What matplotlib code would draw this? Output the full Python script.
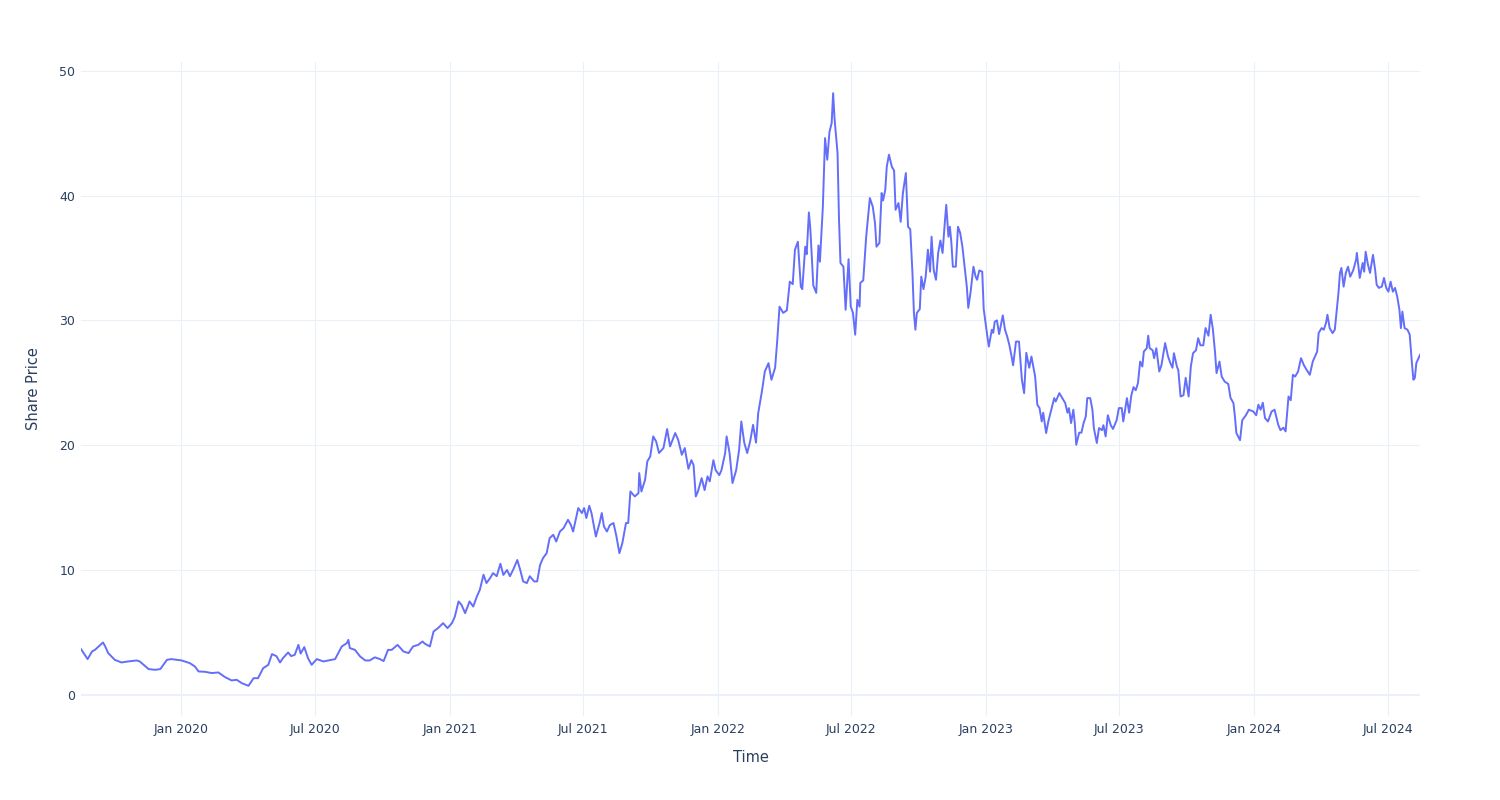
import matplotlib
matplotlib.use('Agg')
import matplotlib.pyplot as plt
import pandas as pd

start_date = '2019-08-18'

day_offsets = [
    0, 9, 15, 19, 24, 30, 33, 37, 46, 55, 64, 76, 80, 92, 101, 108, 117, 123, 137, 148, 155,
    160, 169, 178, 187, 196, 205, 212, 219, 228, 235, 241, 248, 255, 260, 266, 271, 275, 282,
    286, 291, 296, 299, 304, 309, 314, 321, 330,
    337, 346, 355, 362, 364, 366, 373, 380, 387, 393, 400, 407, 412, 418, 423, 431, 439, 446,
    452, 459, 465, 468, 475,
    480, 486, 493, 499, 505, 509, 514, 518, 523, 529, 534, 539, 543, 548, 552, 557, 561, 566,
    571, 575, 580, 584, 589, 594, 598, 602, 607, 611, 617, 621, 625, 629, 634, 638,
    643, 647, 652, 657, 663, 667, 670, 677, 682, 685, 688, 692, 695, 701, 706, 709, 712, 716,
    720, 725, 729, 733, 737, 742, 745, 748, 754, 759, 760, 763, 768, 771, 775, 779, 783, 787,
    793, 798, 802, 809, 813, 818, 822, 827,
    831, 834, 837, 840, 845, 849, 853, 856, 861, 864, 869, 872, 877, 879, 883, 887, 892, 896,
    899, 903, 907, 911, 915, 919, 922, 927, 931, 936, 940, 945, 948, 951,
    956, 961, 965, 969, 972, 976, 980, 982, 986, 988, 991, 993, 997, 1001, 1004, 1006, 1010,
    1013, 1016, 1019, 1022, 1024, 1026, 1030, 1032, 1034, 1038, 1041, 1045, 1048, 1051, 1054,
    1057, 1060, 1061, 1065, 1069, 1072, 1074, 1078, 1081, 1083, 1087, 1090, 1092, 1095, 1097,
    1100, 1104, 1107, 1109, 1113, 1116, 1119, 1123, 1126, 1129, 1132, 1134, 1136, 1138, 1142,
    1144, 1147, 1150, 1153, 1156, 1158, 1161, 1164, 1167, 1170, 1173, 1176, 1178, 1181, 1183,
    1185, 1187, 1191, 1194, 1197, 1200, 1203, 1206, 1208, 1211, 1215, 1218, 1220, 1223, 1227,
    1229,
    1234, 1236, 1240, 1242, 1244, 1247, 1250, 1255, 1258, 1261, 1264, 1267, 1269, 1273, 1277,
    1281, 1284, 1287, 1291, 1294, 1299, 1302, 1305, 1308, 1310, 1314, 1317, 1321, 1325, 1327,
    1332, 1336, 1340, 1343, 1345, 1348, 1351, 1353, 1355, 1359, 1362, 1365, 1368, 1370, 1374,
    1377, 1379, 1383, 1386,
    1390, 1392, 1395, 1398, 1402, 1405, 1410, 1413, 1417, 1419, 1424, 1427, 1430, 1433, 1436,
    1439, 1442, 1445, 1447, 1451, 1453, 1455, 1459, 1461, 1464, 1468, 1471, 1476, 1480, 1483,
    1486, 1488, 1492, 1494, 1497, 1501, 1504, 1508, 1511, 1514, 1518, 1521, 1524, 1528, 1531,
    1535, 1538, 1541, 1544, 1546, 1550, 1553, 1557, 1562, 1565, 1569, 1571, 1573, 1578,
    1581, 1586, 1590, 1596, 1600, 1603, 1606, 1609, 1612, 1616, 1621, 1625, 1630, 1633, 1637,
    1640, 1644, 1647, 1650, 1653, 1657, 1661, 1665, 1669, 1673, 1677, 1680, 1683, 1685, 1689,
    1692, 1695, 1697, 1700, 1704, 1707, 1709, 1712, 1714, 1716, 1719, 1722, 1725, 1728, 1732,
    1736, 1737, 1741, 1745, 1747, 1749, 1752, 1755, 1759, 1762, 1764, 1767, 1771, 1774, 1777,
    1780, 1783, 1786, 1789, 1792, 1795, 1797, 1799, 1802, 1806, 1809, 1812, 1814, 1816, 1818,
    1823,
]

share_price = [
    3.66, 2.86, 3.47, 3.6, 3.87, 4.19, 3.87, 3.34, 2.8, 2.59, 2.67, 2.75, 2.67, 2.06, 2.0, 2.06,
    2.8, 2.86, 2.75, 2.54, 2.27,
    1.87, 1.84, 1.74, 1.79, 1.42, 1.15, 1.2, 0.93, 0.72, 1.33, 1.33, 2.13, 2.4, 3.26, 3.1, 2.59,
    2.94, 3.39, 3.1, 3.2, 4.0, 3.3, 3.82, 2.94, 2.4, 2.86, 2.67,
    2.75, 2.86, 3.87, 4.14, 4.4, 3.74, 3.6, 3.07, 2.75, 2.75, 3.0, 2.86, 2.7, 3.6, 3.6, 4.0,
    3.47, 3.34, 3.87, 4.0, 4.27, 4.1, 3.87,
    5.07, 5.34, 5.74, 5.34, 5.74, 6.27, 7.48, 7.21, 6.54, 7.48, 7.07, 7.88, 8.41, 9.62, 8.95,
    9.35, 9.75, 9.5, 10.5, 9.6, 10.0, 9.5, 10.1, 10.8, 10.0, 9.08, 8.95, 9.5, 9.08, 9.08, 10.4,
    10.95, 11.35, 12.55,
    12.82, 12.28, 13.08, 13.35, 14.02, 13.6, 13.08, 14.96, 14.56, 14.96, 14.16, 15.14, 14.56,
    12.68, 13.76, 14.56, 13.49, 13.08, 13.6, 13.76, 12.68, 11.35, 12.15, 13.76, 13.76, 16.29,
    15.89, 16.16, 17.76, 16.29, 17.23, 18.7, 19.1, 20.7, 20.3, 19.37, 19.77, 21.29, 19.9, 20.97,
    20.43, 19.23, 19.77, 18.1,
    18.8, 18.4, 15.89, 16.3, 17.36, 16.4, 17.5, 17.1, 18.8, 18.0, 17.6, 18.0, 19.37, 20.7, 19.37,
    16.96, 18.0, 19.63, 21.9, 20.2, 19.37, 20.3, 21.63, 20.2, 22.57, 24.3, 25.9, 26.57, 25.24,
    26.2, 28.45, 31.1,
    30.6, 30.8, 33.1, 32.9, 35.66, 36.3, 32.7, 32.5, 35.9, 35.3, 38.65, 37.3, 32.8, 32.2, 36.0,
    34.7, 39.1, 44.6, 42.87, 45.1, 45.8, 48.2, 46.1, 43.4, 38.06, 34.6, 34.3, 30.85, 34.9, 31.1,
    30.6, 28.85, 31.65, 31.1, 33.0, 33.2, 36.7, 38.6, 39.8, 39.1, 37.8, 35.9, 36.2, 40.2, 39.6,
    40.46, 42.3, 43.27, 42.3, 42.0, 38.86, 39.4, 37.9, 40.2, 41.8, 37.5, 37.3, 33.8, 30.6, 29.25,
    30.6, 30.9, 33.5, 32.5, 33.5, 35.66, 33.9, 36.7, 34.0, 33.25, 35.4, 36.4, 35.4, 37.8, 39.26,
    36.7, 37.5, 36.2, 34.3, 34.3, 37.5, 37.0, 35.9, 34.3, 32.7, 31.0, 32.2, 34.3, 33.5, 33.25,
    34.0, 33.9, 30.9,
    28.7, 27.9, 29.25, 29.0, 29.9, 30.0, 28.9, 30.4, 29.25, 28.7, 28.0, 27.1, 26.4, 28.3, 28.3,
    25.24, 24.17, 27.4, 26.2, 27.1, 25.5, 23.24, 22.97, 21.9, 22.6, 20.97, 21.9, 22.84, 23.77,
    23.5, 24.17, 23.77, 23.37, 22.6, 22.97, 21.77, 22.84, 21.77, 20.03, 21.0, 21.0, 21.77, 22.3,
    23.77, 23.77, 22.84, 21.37, 20.17, 21.37,
    21.2, 21.6, 20.7, 22.4, 21.6, 21.3, 22.0, 22.97, 22.97, 21.9, 23.77, 22.6, 24.0, 24.65, 24.4,
    24.97, 26.7, 26.3, 27.5, 27.77, 28.77, 27.77, 27.6, 26.97, 27.77, 25.9, 26.4, 28.18, 27.1,
    26.6, 26.2, 27.37, 26.3, 26.0, 23.9, 24.0, 25.4, 23.9, 26.3, 27.37, 27.6, 28.57, 28.0, 28.0,
    29.38, 28.77, 30.45, 29.3, 27.4, 25.77, 26.7, 25.5, 25.1, 24.9, 23.8, 23.37, 22.3, 20.97,
    20.4,
    22.0, 22.4, 22.84, 22.7, 22.4, 23.24, 22.84, 23.4, 22.17, 21.9, 22.7, 22.84, 21.63, 21.2,
    21.4, 21.1, 23.9, 23.6, 25.64, 25.5, 25.9, 26.97, 26.4, 26.0, 25.64, 26.7, 27.1, 27.5, 28.98,
    29.38, 29.25, 29.78, 30.45, 29.38, 28.98, 29.25, 30.45, 32.2, 33.8, 34.2, 32.7, 33.8, 34.3,
    33.5, 34.0, 34.86, 35.4, 33.4, 34.6, 33.9, 35.5, 34.5, 33.8, 35.25, 34.0, 32.85, 32.6, 32.7,
    33.4, 32.6, 32.3, 33.1, 32.3, 32.6, 31.9, 30.85, 29.38, 30.7, 29.38, 29.25, 28.85, 26.57,
    25.24, 25.4, 26.57, 27.24,
]

xtick_dates = ['2020-01-01', '2020-07-01', '2021-01-01', '2021-07-01', '2022-01-01',
               '2022-07-01', '2023-01-01', '2023-07-01', '2024-01-01', '2024-07-01']
xtick_labels = ['Jan 2020', 'Jul 2020', 'Jan 2021', 'Jul 2021', 'Jan 2022',
                'Jul 2022', 'Jan 2023', 'Jul 2023', 'Jan 2024', 'Jul 2024']
ytick_values = [0, 10, 20, 30, 40, 50]
x_title = 'Time'
y_title = 'Share Price'

plt.rcParams['font.family'] = ['DejaVu Sans']

dates = pd.Timestamp(start_date) + pd.to_timedelta(day_offsets, unit='D')

W, H = 1500, 800
fig = plt.figure(figsize=(W / 100, H / 100), dpi=100)
fig.patch.set_facecolor('white')
left, right, top, bottom = 81, 1420, 62, 716
ax = fig.add_axes([left / W, 1 - bottom / H, (right - left) / W, (bottom - top) / H])
ax.set_facecolor('white')

grid_color = '#EBF0F8'
text_color = '#2a3f5f'

for xd in xtick_dates:
    ax.axvline(pd.Timestamp(xd), color=grid_color, lw=0.8, zorder=0)
for yv in ytick_values:
    if yv == 0:
        ax.axhline(yv, color=grid_color, lw=1.5, zorder=0)
    else:
        ax.axhline(yv, color=grid_color, lw=0.8, zorder=0)

ax.plot(dates, share_price, color='#636efa', lw=1.4, solid_joinstyle='round', zorder=3)

ax.set_xlim(dates[0], dates[-1])
ax.set_ylim(-1.7, 50.7)

ax.set_xticks([pd.Timestamp(d) for d in xtick_dates])
ax.set_xticklabels(xtick_labels)
ax.set_yticks(ytick_values)
ax.set_yticklabels([str(v) for v in ytick_values])
ax.tick_params(axis='both', length=0, labelsize=9, labelcolor=text_color)
ax.tick_params(axis='x', pad=5)
ax.tick_params(axis='y', pad=4)

for s in ax.spines.values():
    s.set_visible(False)

ax.set_xlabel(x_title, fontsize=10.5, color=text_color, labelpad=10)
ax.set_ylabel(y_title, fontsize=10.5, color=text_color, labelpad=13)

fig.savefig('out.png', dpi=100, facecolor='white')
